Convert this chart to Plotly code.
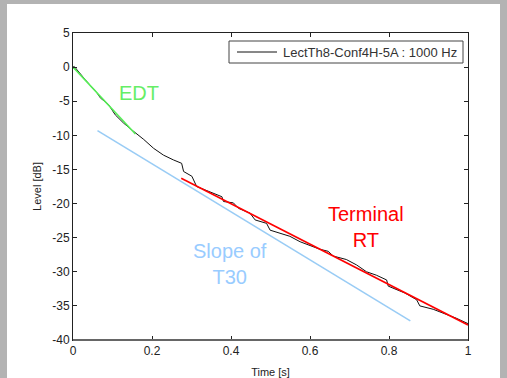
import plotly.graph_objects as go

# Measured decay curve (black)
time_s = [0.0, 0.003, 0.031, 0.061, 0.069, 0.09, 0.107, 0.128, 0.153, 0.179, 0.204,
          0.229, 0.254, 0.275, 0.280, 0.301, 0.313, 0.33, 0.356, 0.377, 0.381, 0.406,
          0.419, 0.448, 0.461, 0.49, 0.499, 0.524, 0.549, 0.575, 0.6, 0.625, 0.646,
          0.659, 0.692, 0.718, 0.743, 0.768, 0.794, 0.798, 0.827, 0.84, 0.87, 0.878,
          0.912, 0.945, 0.97, 1.0]
level_db = [0.0, 0.1, -1.85, -3.8, -4.5, -5.5, -7.0, -8.2, -9.4, -10.6, -11.9,
            -12.9, -13.6, -14.1, -15.3, -16.0, -17.5, -17.9, -18.4, -19.0, -19.7, -19.9,
            -20.7, -21.4, -22.4, -22.9, -23.9, -24.3, -24.8, -25.6, -26.1, -26.7, -27.0,
            -27.7, -28.2, -29.0, -30.0, -30.5, -31.2, -32.1, -32.8, -33.1, -34.1, -35.0,
            -35.5, -36.2, -36.8, -37.6]

# Fitted lines
edt_t = [0.0, 0.158]
edt_db = [0.0, -9.8]
t30_t = [0.062, 0.854]
t30_db = [-9.3, -37.2]
term_t = [0.274, 1.0]
term_db = [-16.3, -37.8]

x_ticks = [0, 0.2, 0.4, 0.6, 0.8, 1]
x_ticklabels = ["0", "0.2", "0.4", "0.6", "0.8", "1"]
y_ticks = [5, 0, -5, -10, -15, -20, -25, -30, -35, -40]
y_ticklabels = ["5", "0", "-5", "-10", "-15", "-20", "-25", "-30", "-35", "-40"]

legend_name = "LectTh8-Conf4H-5A : 1000 Hz"

FONT = "Liberation Sans, Arial, sans-serif"

# plot-area geometry (pixels) used to place paper-referenced decorations
L, R, T, B = 73, 468, 33, 340
W, H = R - L, B - T


def px(x):
    return (x - L) / W


def py(y):
    return (B - y) / H


fig = go.Figure()
fig.add_trace(go.Scatter(x=time_s, y=level_db, mode="lines", name=legend_name,
                         showlegend=False, line=dict(color="#111111", width=1)))
fig.add_trace(go.Scatter(x=edt_t, y=edt_db, mode="lines", showlegend=False,
                         line=dict(color="#55ee55", width=1.6)))
fig.add_trace(go.Scatter(x=t30_t, y=t30_db, mode="lines", showlegend=False,
                         line=dict(color="#99ccf5", width=1.6)))
fig.add_trace(go.Scatter(x=term_t, y=term_db, mode="lines", showlegend=False,
                         line=dict(color="#ff0000", width=1.6)))

fig.add_annotation(x=0.166, y=-3.8, xref="x", yref="y", text="EDT", showarrow=False,
                   font=dict(family=FONT, size=20, color="#66ee66"))
fig.add_annotation(x=0.743, y=-23.4, xref="x", yref="y", text="Terminal<br>RT",
                   showarrow=False, font=dict(family=FONT, size=20, color="#ff0000"))
fig.add_annotation(x=0.398, y=-28.9, xref="x", yref="y", text="Slope of<br>T30",
                   showarrow=False, font=dict(family=FONT, size=20, color="#99ccff"))

# gray frame: white sheet over gray paper
fig.add_shape(type="rect", xref="paper", yref="paper",
              x0=px(7), x1=px(500), y0=py(420), y1=py(4),
              fillcolor="white", line=dict(width=0), layer="below")
# thicker gray bottom axis line
fig.add_shape(type="line", xref="paper", yref="paper", x0=0, x1=1, y0=0, y1=0,
              line=dict(color="#666666", width=2), layer="above")

# legend box (MATLAB style)
fig.add_shape(type="rect", xref="paper", yref="paper",
              x0=px(229), x1=px(463), y0=py(63), y1=py(41),
              fillcolor="white", line=dict(color="#444444", width=1), layer="above")
fig.add_shape(type="line", xref="paper", yref="paper",
              x0=px(237), x1=px(277), y0=py(52), y1=py(52),
              line=dict(color="#111111", width=1), layer="above")
fig.add_annotation(x=px(281), y=py(52), xref="paper", yref="paper",
                   xanchor="left", yanchor="middle", text=legend_name,
                   showarrow=False, font=dict(family=FONT, size=13, color="#333333"))

fig.update_layout(
    width=507, height=378,
    margin=dict(l=L, r=507 - R, t=T, b=378 - B, autoexpand=False),
    paper_bgcolor="#b3b3b3",
    plot_bgcolor="white",
    font=dict(family=FONT, size=12, color="#222222"),
    showlegend=False,
    xaxis=dict(range=[0, 1], tickvals=x_ticks, ticktext=x_ticklabels,
               showgrid=False, zeroline=False, showline=True, linecolor="#222222",
               linewidth=1, mirror="ticks", ticks="inside", ticklen=4,
               tickcolor="#222222", automargin=False,
               title=dict(text="Time [s]", font=dict(size=11), standoff=10)),
    yaxis=dict(range=[-40, 5], tickvals=y_ticks, ticktext=y_ticklabels,
               showgrid=False, zeroline=False, showline=True, linecolor="#222222",
               linewidth=1, mirror="ticks", ticks="inside", ticklen=4,
               tickcolor="#222222", automargin=False,
               title=dict(text="Level [dB]", font=dict(size=11), standoff=8)),
)

fig.write_html(
    "out.html",
    config={"displayModeBar": False},
    post_script="document.body.style.margin='0';document.body.style.padding='0';"
                "document.body.style.background='#b3b3b3';",
)
